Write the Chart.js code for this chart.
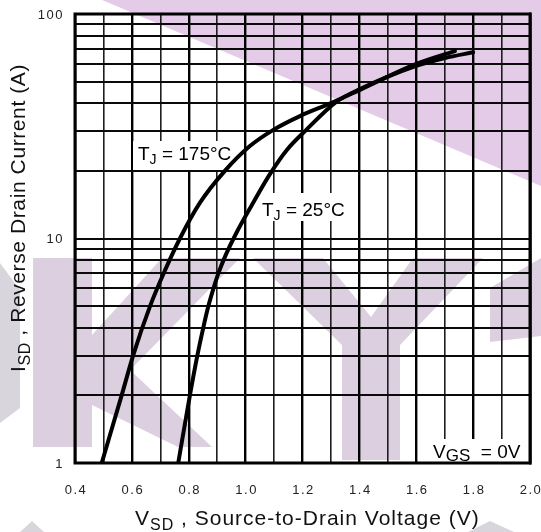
<!DOCTYPE html>
<html>
<head>
<meta charset="utf-8">
<script src="https://cdn.jsdelivr.net/npm/chart.js@4/dist/chart.umd.min.js"></script>
<style>
html,body{margin:0;padding:0;background:#fff;overflow:hidden}
#wrap{width:541px;height:532px;position:relative}
canvas{display:block}
</style>
</head>
<body>
<div id="wrap"><canvas id="c" width="541" height="532"></canvas></div>
<script>
// ---- data ----
const vsd175 = [0.494, 0.564, 0.604, 0.664, 0.716, 0.769, 0.839, 0.927, 1.015, 1.096, 1.191, 1.30, 1.402, 1.60, 1.736];
const isd175 = [1, 2, 3, 5, 7.19, 10, 14.4, 20, 25.8, 30.4, 35.1, 40.1, 45.9, 59.9, 68.4];
const vsd25  = [0.763, 0.804, 0.830, 0.851, 0.869, 0.887, 0.906, 0.931, 0.966, 1.022, 1.086, 1.145, 1.209, 1.32, 1.402, 1.60, 1.701, 1.80];
const isd25  = [1, 2, 3, 4, 5, 6, 7.1, 8.5, 10.5, 14.1, 19.4, 24.8, 30.1, 40.7, 46.3, 58.7, 63.7, 67.5];
const xGridValues = [0.4,0.5,0.6,0.7,0.8,0.9,1.0,1.1,1.2,1.3,1.4,1.5,1.6,1.7,1.8,1.9,2.0];
const xTickLabels = ['0.4','0.6','0.8','1.0','1.2','1.4','1.6','1.8','2.0'];
const yGridValues = [1,2,3,4,5,6,7,8,9,10,20,30,40,50,60,70,80,90,100];
const yTickLabels = ['1','10','100'];

const FONT = '"Liberation Sans", Arial, Helvetica, sans-serif';

function poly(ctx, pts){
  ctx.beginPath();
  ctx.moveTo(pts[0][0], pts[0][1]);
  for (let i=1;i<pts.length;i++) ctx.lineTo(pts[i][0], pts[i][1]);
  ctx.closePath(); ctx.fill();
}

// draws a run of text pieces (for subscripts); returns width
function drawParts(ctx, x, y, parts, spacing){
  ctx.letterSpacing = (spacing||0) + 'px';
  let cx = x;
  for (const p of parts){
    ctx.font = p.size + 'px ' + FONT;
    ctx.fillText(p.t, cx, y + (p.dy||0));
    cx += ctx.measureText(p.t).width;
  }
  ctx.letterSpacing = '0px';
  return cx - x;
}

const decor = {
  id: 'decor',
  beforeDraw(chart){
    const ctx = chart.ctx;
    ctx.save();
    ctx.fillStyle = '#fff';
    ctx.fillRect(0, 0, chart.width, chart.height);
    // watermark (decorative background)
    ctx.fillStyle = '#e4cce9';
    poly(ctx, [[102,0],[541,0],[541,186]]);
    ctx.fillStyle = '#dccfe0';
    poly(ctx, [[33,258],[92,258],[92,447],[33,447]]);
    poly(ctx, [[92,335],[162,258],[240,258],[130,370],[212,447],[178,447],[92,405]]);
    poly(ctx, [[253,258],[323,258],[371,317],[413,258],[483,258],[400,345],[400,460],[342,460],[342,345]]);
    poly(ctx, [[490,288],[541,258],[541,336],[490,342]]);
    ctx.fillStyle = '#d9d5dd';
    poly(ctx, [[0,263],[20,290],[20,408],[0,423]]);
    poly(ctx, [[20,532],[32,521],[44,532]]);
    poly(ctx, [[468,532],[490,521],[514,532]]);
    ctx.restore();
  },
  beforeDatasetsDraw(chart){
    const ctx = chart.ctx;
    ctx.save();
    ctx.fillStyle = '#fff';
    ctx.fillRect(133, 141, 101, 29);
    ctx.fillRect(257, 193, 91, 28);
    ctx.fillRect(428, 439, 102, 23);
    ctx.fillStyle = '#000';
    ctx.textBaseline = 'alphabetic';
    drawParts(ctx, 138, 160, [{t:'T',size:19},{t:'J',size:14,dy:4},{t:' = 175°C',size:19}], 0);
    drawParts(ctx, 262, 216, [{t:'T',size:19},{t:'J',size:14,dy:4},{t:' = 25°C',size:19}], 0);
    drawParts(ctx, 433, 458, [{t:'V',size:19},{t:'GS',size:17,dy:3},{t:'  = 0V',size:19}], 0);
    ctx.restore();
  },
  afterDraw(chart){
    const ctx = chart.ctx, a = chart.chartArea;
    const xs = chart.scales.x, ys = chart.scales.y;
    ctx.save();
    ctx.strokeStyle = '#000';
    ctx.lineWidth = 3;
    ctx.strokeRect(a.left, a.top, a.right - a.left, a.bottom - a.top);
    ctx.fillRect(a.right - 1, a.top - 1.5, 2.5, a.bottom - a.top + 3);
    // tick labels
    ctx.fillStyle = '#222';
    ctx.font = '13px ' + FONT;
    ctx.letterSpacing = '1.5px';
    ctx.textBaseline = 'middle';
    ctx.textAlign = 'right';
    for (const l of yTickLabels){
      ctx.fillText(l, 64, ys.getPixelForValue(parseFloat(l)) + 1);
    }
    ctx.textAlign = 'center';
    for (const l of xTickLabels){
      ctx.fillText(l, xs.getPixelForValue(parseFloat(l)) + 1, 490);
    }
    ctx.letterSpacing = '0px';
    ctx.textAlign = 'left';
    ctx.textBaseline = 'alphabetic';
    ctx.fillStyle = '#111';
    // x title
    const xParts = [{t:'V',size:21},{t:'SD',size:16,dy:5},{t:' , Source-to-Drain Voltage (V)',size:21}];
    drawParts(ctx, 135, 525, xParts, 1.0);
    // y title
    const yParts = [{t:'I',size:21},{t:'SD',size:16,dy:5},{t:' , Reverse Drain Current (A)',size:21}];
    ctx.save();
    ctx.translate(25, 372);
    ctx.rotate(-Math.PI/2);
    drawParts(ctx, 0, 0, yParts, 0.6);
    ctx.restore();
    ctx.restore();
  }
};

const gridX = {
  color: (c) => { const v = c.tick ? c.tick.value : 0; return (Math.round(v*10) % 2 === 0) ? '#000' : '#1e1e1e'; },
  lineWidth: (c) => { const v = c.tick ? c.tick.value : 0; return (Math.round(v*10) % 2 === 0) ? 2.4 : 1.6; },
  drawTicks: false
};
const gridY = { color: '#0a0a0a', lineWidth: 2, drawTicks: false };

new Chart(document.getElementById('c'), {
  type: 'line',
  data: {
    datasets: [
      { label: 'TJ = 175°C', data: vsd175.map((v,i)=>({x:v, y:isd175[i]})),
        borderColor: '#000', borderWidth: 4, pointRadius: 0, fill: false,
        cubicInterpolationMode: 'monotone', borderCapStyle: 'round', borderJoinStyle: 'round' },
      { label: 'TJ = 25°C', data: vsd25.map((v,i)=>({x:v, y:isd25[i]})),
        borderColor: '#000', borderWidth: 4, pointRadius: 0, fill: false,
        cubicInterpolationMode: 'monotone', borderCapStyle: 'round', borderJoinStyle: 'round' }
    ]
  },
  options: {
    responsive: false,
    animation: false,
    devicePixelRatio: 1,
    layout: { padding: { left: 0, right: 11, top: 14, bottom: 0 } },
    plugins: { legend: { display: false }, tooltip: { enabled: false } },
    scales: {
      x: {
        type: 'linear', min: 0.4, max: 2.0,
        afterBuildTicks: (s) => { s.ticks = xGridValues.map(v => ({ value: v })); },
        afterFit: (s) => { s.height = 69; },
        ticks: { display: false },
        grid: gridX,
        border: { display: false }
      },
      y: {
        type: 'logarithmic', min: 1, max: 100,
        afterBuildTicks: (s) => { s.ticks = yGridValues.map(v => ({ value: v })); },
        afterFit: (s) => { s.width = 75; },
        ticks: { display: false },
        grid: gridY,
        border: { display: false }
      }
    }
  },
  plugins: [decor]
});
</script>
</body>
</html>
